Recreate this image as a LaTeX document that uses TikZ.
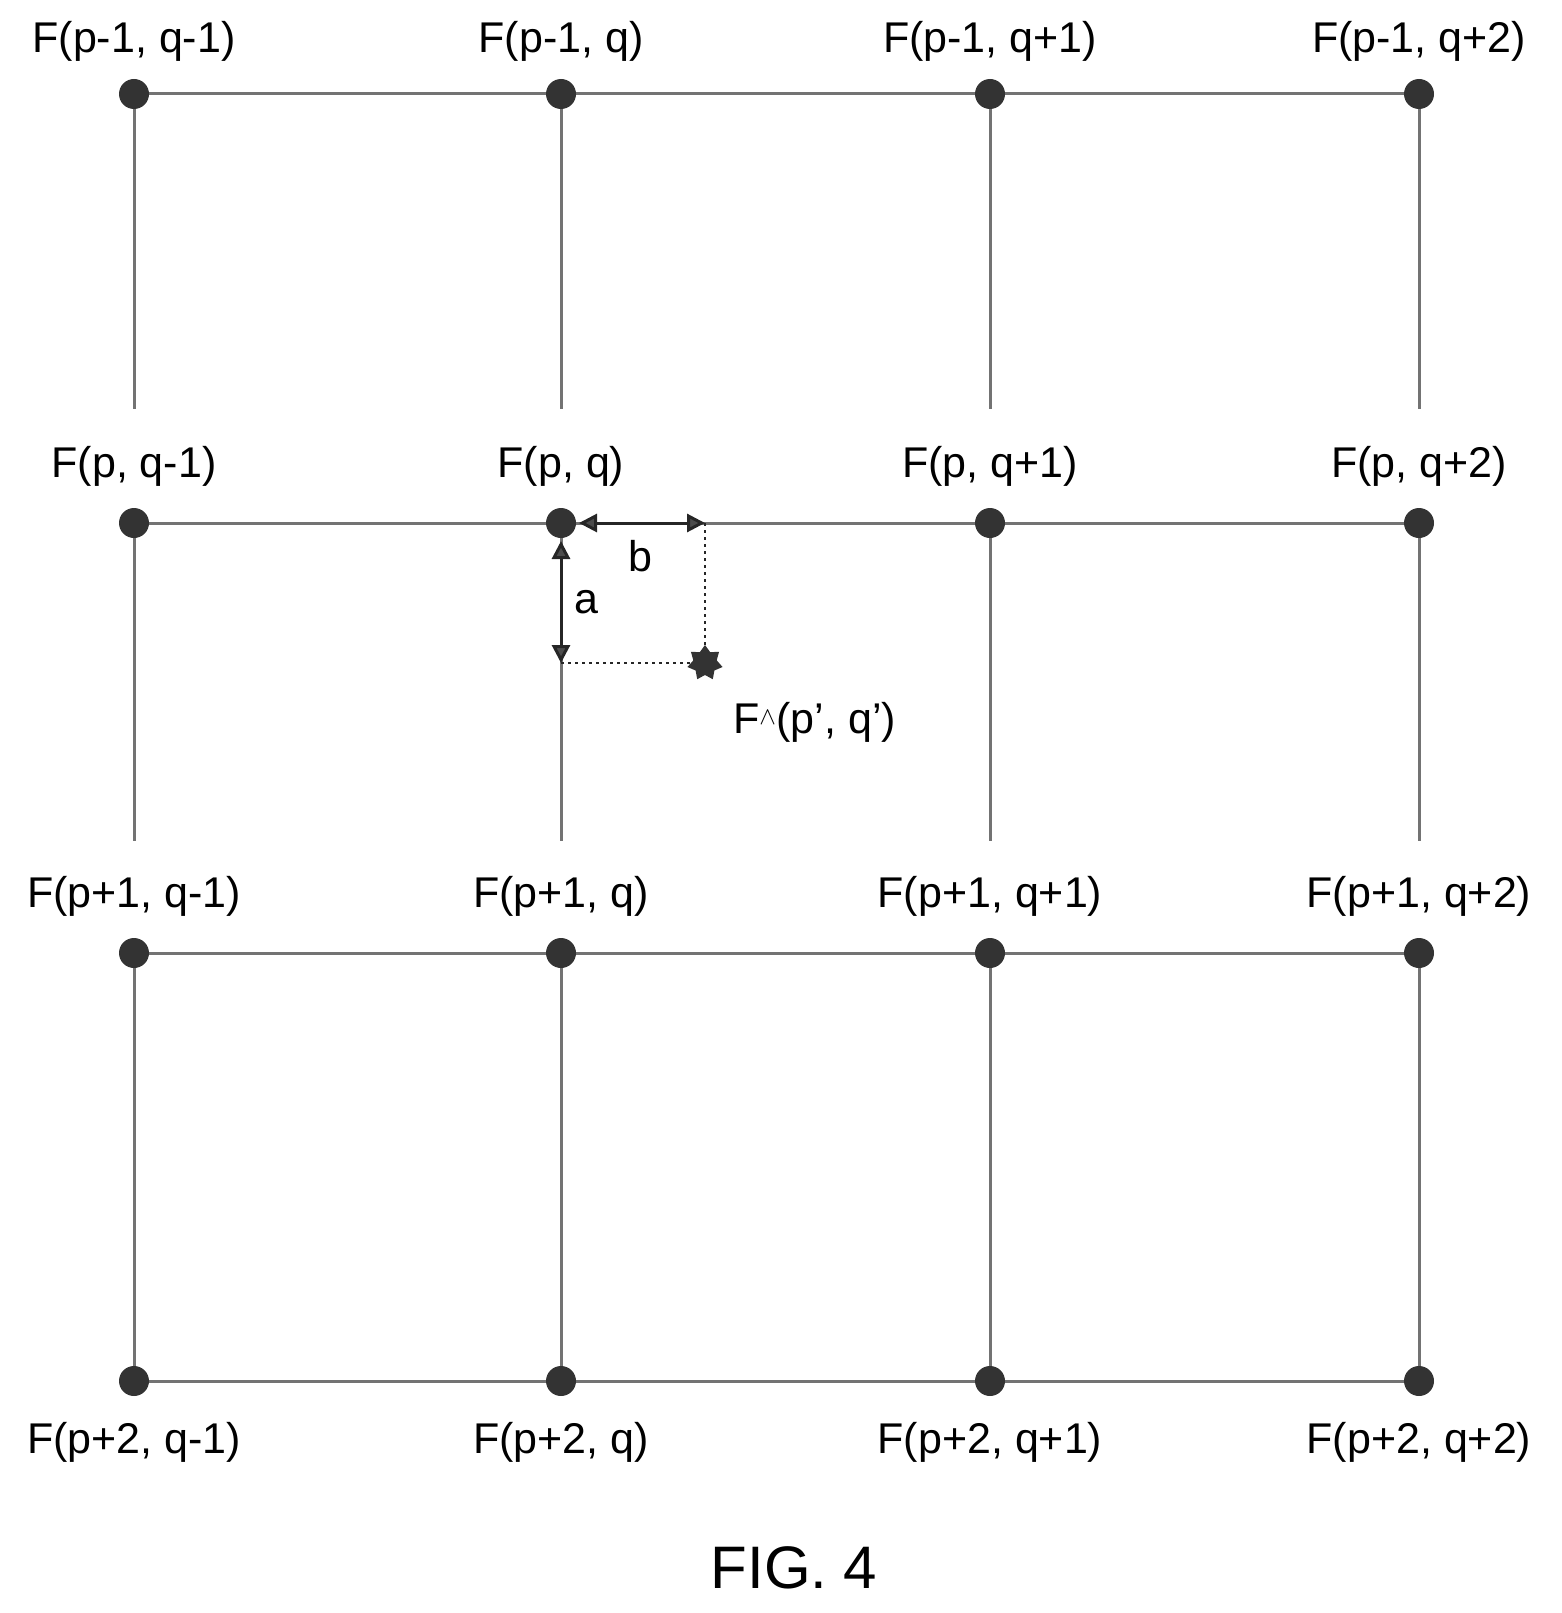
\documentclass[tikz,border=0pt]{standalone}
\usepackage{fontspec}
\setmainfont{Liberation Sans}
\usetikzlibrary{arrows.meta,shapes.geometric}
\begin{document}
\begin{tikzpicture}[x=1pt,y=-1pt,
  grid/.style={draw=black!55,line width=3pt},
  pt/.style={circle,fill=black!80,minimum size=30pt,inner sep=0pt},
  lab/.style={font=\fontsize{43}{46}\selectfont,inner sep=0pt},
  dim/.style={black!85,line width=3pt,{Triangle[length=18pt,width=18pt,open,fill=black!70]}-{Triangle[length=18pt,width=18pt,open,fill=black!70]}},
  aux/.style={black!85,line width=2.5pt,dash pattern=on 3pt off 4pt}]
\useasboundingbox (0,0) rectangle (1562,1613);
% grid lines
\foreach \r/\y in {0/94,1/523,2/953,3/1381}{
  \draw[grid] (134,\y) -- (1419,\y);}
\foreach \x in {134,561,990,1419}{
  \draw[grid] (\x,94) -- (\x,409);
  \draw[grid] (\x,523) -- (\x,841);
  \draw[grid] (\x,953) -- (\x,1381);}
% nodes
\foreach \y/\r in {94/0,523/1,953/2,1381/3}{
  \foreach \x/\c in {134/0,561/1,990/2,1419/3}{
    \node[pt] (n\r\c) at (\x,\y) {};}}
% labels
\node[lab] at (134,41) {F(p-1, q-1)};
\node[lab] at (561,41) {F(p-1, q)};
\node[lab] at (990,41) {F(p-1, q+1)};
\node[lab] at (1419,41) {F(p-1, q+2)};
\node[lab] at (134,466) {F(p, q-1)};
\node[lab] at (561,466) {F(p, q)};
\node[lab] at (990,466) {F(p, q+1)};
\node[lab] at (1419,466) {F(p, q+2)};
\node[lab] at (134,896) {F(p+1, q-1)};
\node[lab] at (561,896) {F(p+1, q)};
\node[lab] at (990,896) {F(p+1, q+1)};
\node[lab] at (1419,896) {F(p+1, q+2)};
\node[lab] at (134,1442) {F(p+2, q-1)};
\node[lab] at (561,1442) {F(p+2, q)};
\node[lab] at (990,1442) {F(p+2, q+1)};
\node[lab] at (1419,1442) {F(p+2, q+2)};
% interpolated point
\node[star,star points=7,fill=black!80,minimum size=36pt,inner sep=0pt] (s) at (705,663) {};
\coordinate (c1) at (705,523);
\coordinate (c2) at (561,663);
\draw[aux] (c1) -- (s);
\draw[aux] (c2) -- (s);
\draw[dim] (579,523) -- (c1);
\draw[dim] (561,541) -- (c2);
\node[lab] at (640,556) {b};
\node[lab] at (586,602) {a};
\node[lab,anchor=west] at (733,722) {F$^{\wedge}$(p', q')};
\node[font=\fontsize{60}{64}\selectfont] at (794,1568) {FIG. 4};
\end{tikzpicture}
\end{document}
